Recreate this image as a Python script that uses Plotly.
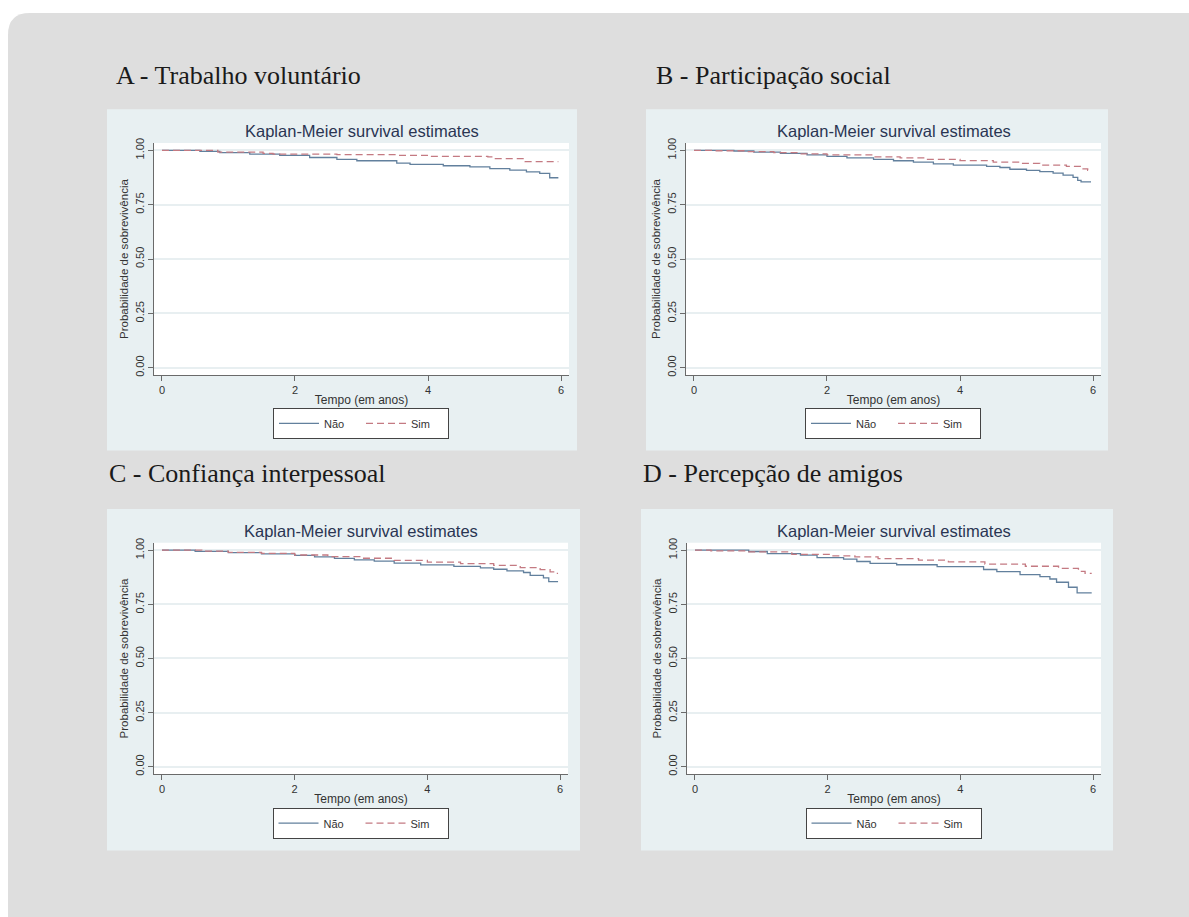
import plotly.graph_objects as go

W, H = 1189, 917

# ---------------- data ----------------
panel_titles = ["A - Trabalho voluntário", "B - Participação social",
                "C - Confiança interpessoal", "D - Percepção de amigos"]
chart_title = "Kaplan-Meier survival estimates"
x_title = "Tempo (em anos)"
y_title = "Probabilidade de sobrevivência"
group_labels = ["Não", "Sim"]
x_ticks = [0, 2, 4, 6]
y_ticks = [0.0, 0.25, 0.50, 0.75, 1.00]

# Panel A
a_nao_t = [0, 0.57, 0.87, 1.32, 1.77, 2.22, 2.63, 2.93, 3.53, 3.73, 4.23, 4.63, 4.93, 5.23, 5.48, 5.68, 5.83, 5.96]
a_nao_s = [1.0, 0.995, 0.989, 0.983, 0.977, 0.967, 0.958, 0.952, 0.941, 0.935, 0.929, 0.924, 0.916, 0.909, 0.901, 0.894, 0.874, 0.874]
a_sim_t = [0, 0.84, 1.52, 1.67, 2.63, 3.53, 4.00, 4.90, 5.00, 5.46, 5.96]
a_sim_s = [1.0, 0.992, 0.986, 0.983, 0.980, 0.977, 0.972, 0.970, 0.962, 0.948, 0.948]

# Panel B
b_nao_t = [0, 0.6, 0.9, 1.3, 1.7, 2.0, 2.3, 2.7, 3.0, 3.3, 3.6, 3.9, 4.4, 4.6, 4.75, 5.0, 5.2, 5.4, 5.55, 5.7, 5.77, 5.82, 5.97]
b_nao_s = [1.0, 0.997, 0.992, 0.986, 0.979, 0.972, 0.965, 0.958, 0.952, 0.946, 0.938, 0.932, 0.926, 0.921, 0.913, 0.908, 0.902, 0.895, 0.886, 0.876, 0.862, 0.855, 0.855]
b_sim_t = [0, 0.3, 0.8, 1.2, 1.6, 2.0, 2.7, 3.1, 3.5, 4.0, 4.5, 4.9, 5.2, 5.6, 5.85, 5.92, 5.97]
b_sim_s = [1.0, 0.998, 0.994, 0.989, 0.984, 0.979, 0.970, 0.965, 0.958, 0.953, 0.946, 0.940, 0.932, 0.926, 0.915, 0.908, 0.908]

# Panel C
c_nao_t = [0, 0.5, 1.0, 1.5, 2.0, 2.3, 2.6, 2.9, 3.2, 3.5, 3.9, 4.4, 4.8, 5.0, 5.2, 5.45, 5.55, 5.75, 5.83, 5.97]
c_nao_s = [1.0, 0.995, 0.989, 0.983, 0.976, 0.969, 0.962, 0.955, 0.950, 0.940, 0.932, 0.925, 0.918, 0.912, 0.905, 0.897, 0.884, 0.872, 0.855, 0.855]
c_sim_t = [0, 0.6, 1.0, 1.5, 2.0, 2.5, 3.0, 3.5, 4.0, 4.5, 5.0, 5.4, 5.7, 5.85, 5.92, 5.97]
c_sim_s = [1.0, 0.996, 0.990, 0.985, 0.978, 0.970, 0.963, 0.953, 0.945, 0.938, 0.930, 0.920, 0.910, 0.900, 0.893, 0.893]

# Panel D
d_nao_t = [0, 0.81, 1.09, 1.59, 1.84, 2.24, 2.44, 2.64, 3.04, 3.65, 4.35, 4.55, 4.90, 5.20, 5.35, 5.45, 5.63, 5.76, 5.98]
d_nao_s = [1.0, 0.994, 0.984, 0.977, 0.966, 0.959, 0.948, 0.939, 0.933, 0.924, 0.911, 0.901, 0.887, 0.878, 0.867, 0.852, 0.829, 0.803, 0.803]
d_sim_t = [0, 0.24, 0.80, 1.46, 2.06, 2.41, 2.76, 3.37, 3.82, 4.37, 4.98, 5.48, 5.78, 5.88, 5.98]
d_sim_s = [1.0, 0.997, 0.992, 0.981, 0.974, 0.969, 0.961, 0.954, 0.946, 0.936, 0.926, 0.916, 0.902, 0.893, 0.893]

series = [
    (a_nao_t, a_nao_s, a_sim_t, a_sim_s),
    (b_nao_t, b_nao_s, b_sim_t, b_sim_s),
    (c_nao_t, c_nao_s, c_sim_t, c_sim_s),
    (d_nao_t, d_nao_s, d_sim_t, d_sim_s),
]

# ---------------- layout geometry (pixels) ----------------
# plot areas: (left, top, right, bottom)
plot_boxes = [(154, 139, 569, 373), (686, 139, 1101, 373),
              (154, 542, 568, 775), (687, 542, 1101, 775)]
panel_boxes = [(107, 105, 577, 449), (646, 105, 1108, 449),
               (107, 508, 580, 852), (641, 508, 1113, 852)]
panel_title_pos = [(114, 71), (654, 71), (107, 472), (641, 472)]
legend_y = [421.5, 421.5, 824.5, 824.5]

NAO_COLOR = "#62809d"
SIM_COLOR = "#c47a82"
AXIS_COLOR = "#6a6a6a"
TEXT_COLOR = "#333333"
FONT = "Liberation Sans, Arial, sans-serif"


def fx(px):
    return px / W


def fy(py):
    return 1 - py / H


fig = go.Figure()
shapes = []
annotations = []
layout = {}

# outer rounded gray background
r = 22
path = (f"M {fx(8 + r)},{fy(8)} L {fx(1210)},{fy(8)} L {fx(1210)},{fy(940)} "
        f"L {fx(8)},{fy(940)} L {fx(8)},{fy(8 + r)} Q {fx(8)},{fy(8)} {fx(8 + r)},{fy(8)} Z")
shapes.append(dict(type="path", xref="paper", yref="paper", path=path,
                   fillcolor="#dedede", line=dict(width=0), layer="below"))

for i in range(4):
    n = "" if i == 0 else str(i + 1)
    L, T, R, B = plot_boxes[i]
    pl, pt, pr, pb = panel_boxes[i]
    shapes.append(dict(type="rect", xref="paper", yref="paper",
                       x0=fx(pl), x1=fx(pr), y0=fy(pb), y1=fy(pt),
                       fillcolor="#e8f0f2", line=dict(width=0), layer="below"))
    shapes.append(dict(type="rect", xref="paper", yref="paper",
                       x0=fx(L), x1=fx(R), y0=fy(B), y1=fy(T),
                       fillcolor="#ffffff", line=dict(width=0), layer="below"))

    nt, ns, st, ss = series[i]
    leg = "legend" if i == 0 else f"legend{i + 1}"
    fig.add_trace(go.Scatter(x=nt, y=ns, mode="lines", line_shape="hv",
                             line=dict(color=NAO_COLOR, width=1.3),
                             name=group_labels[0], xaxis="x" + n, yaxis="y" + n,
                             legend=leg, hoverinfo="skip"))
    fig.add_trace(go.Scatter(x=st, y=ss, mode="lines", line_shape="hv",
                             line=dict(color=SIM_COLOR, width=1.3, dash="7px,4px"),
                             name=group_labels[1], xaxis="x" + n, yaxis="y" + n,
                             legend=leg, hoverinfo="skip"))

    layout["xaxis" + n] = dict(
        domain=[fx(L), fx(R)], anchor="y" + n, range=[-0.12, 6.12],
        tickvals=x_ticks, ticks="outside", ticklen=5, tickcolor=AXIS_COLOR,
        showline=True, linecolor=AXIS_COLOR, linewidth=1, showgrid=False,
        zeroline=False, tickfont=dict(size=11, color=TEXT_COLOR, family=FONT),
        title=dict(text=x_title, font=dict(size=12, color=TEXT_COLOR, family=FONT), standoff=0),
        fixedrange=True)
    layout["yaxis" + n] = dict(
        domain=[fy(B), fy(T)], anchor="x" + n, range=[-0.034, 1.034],
        tickvals=y_ticks, tickformat=".2f", tickangle=-90,
        ticks="outside", ticklen=5, tickcolor=AXIS_COLOR,
        showline=True, linecolor=AXIS_COLOR, linewidth=1,
        showgrid=True, gridcolor="#e8eff1", gridwidth=1.5, zeroline=False,
        tickfont=dict(size=11, color=TEXT_COLOR, family=FONT),
        title=dict(text=y_title, font=dict(size=11.5, color=TEXT_COLOR, family=FONT), standoff=2),
        fixedrange=True)

    layout[leg] = dict(
        orientation="h", x=fx((L + R) / 2 - 0.5), y=fy(legend_y[i]),
        xanchor="center", yanchor="middle", bgcolor="#ffffff",
        bordercolor="#444444", borderwidth=1,
        font=dict(size=11, color=TEXT_COLOR, family=FONT),
        itemwidth=40, entrywidth=32, itemclick=False, itemdoubleclick=False)

    # chart title
    annotations.append(dict(text=chart_title, xref="paper", yref="paper",
                            x=fx((L + R) / 2), y=fy(T - 12), xanchor="center", yanchor="middle",
                            showarrow=False,
                            font=dict(size=16.5, color="#2a3552", family=FONT)))
    # panel title
    tx, ty = panel_title_pos[i]
    annotations.append(dict(text=panel_titles[i], xref="paper", yref="paper",
                            x=fx(tx), y=fy(ty), xanchor="left", yanchor="middle",
                            showarrow=False,
                            font=dict(size=26, color="#1a1a1a",
                                      family="Liberation Serif, Times New Roman, serif")))

fig.update_layout(
    width=W, height=H, margin=dict(l=0, r=0, t=0, b=0),
    paper_bgcolor="#ffffff", plot_bgcolor="rgba(0,0,0,0)",
    shapes=shapes, annotations=annotations, showlegend=True,
    **layout)

fig.write_html("out.html", config={"displayModeBar": False})
